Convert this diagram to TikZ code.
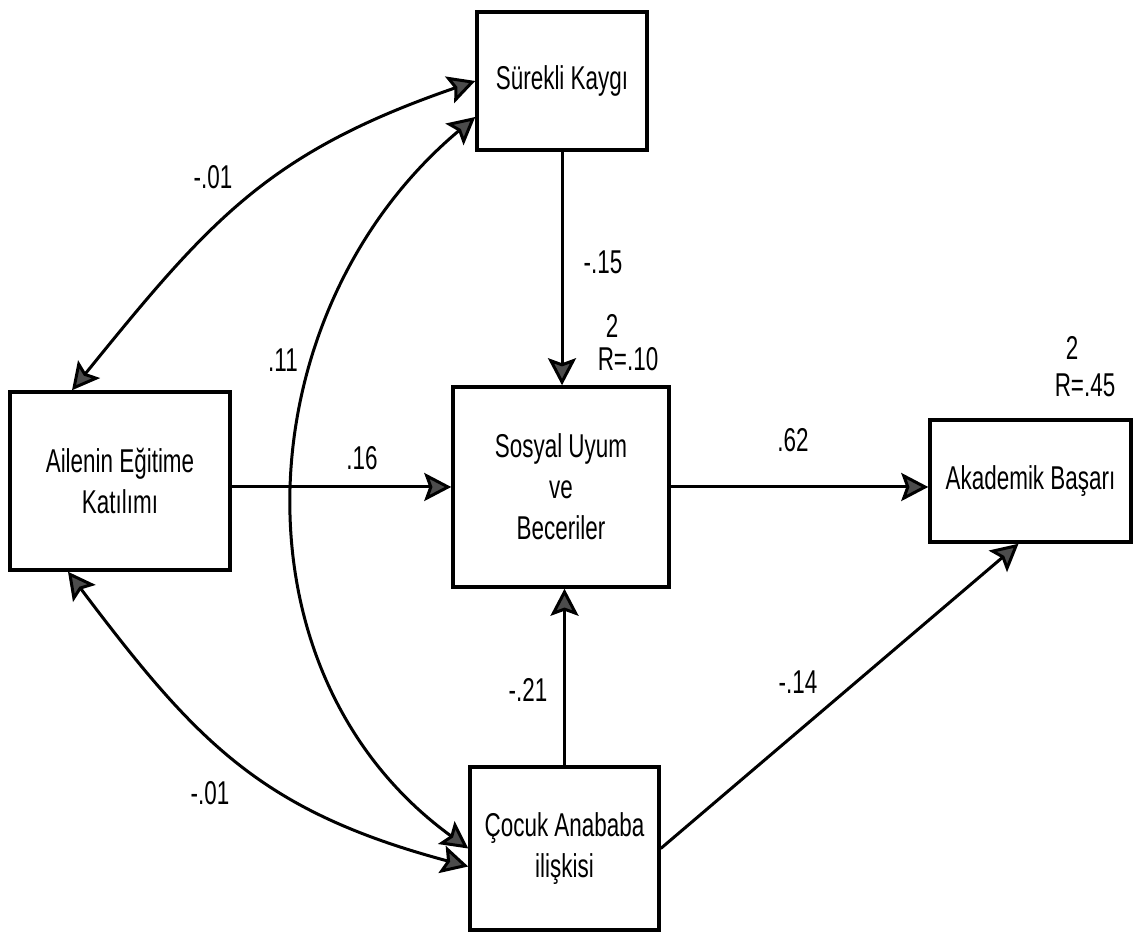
\documentclass[tikz,border=0pt]{standalone}
\usepackage{fontspec}
\setmainfont{Liberation Sans}[FakeStretch=0.68]
\usetikzlibrary{arrows.meta}
\begin{document}
\begin{tikzpicture}[x=1pt,y=1pt,
  font=\fontsize{33}{41}\selectfont,
  box/.style={draw, line width=3.5pt, align=center, inner sep=2pt},
  tip/.tip={Stealth[length=27pt,width=28pt,inset=5pt,fill=black!70]},
  arr/.style={line width=3pt, -tip},
  biarr/.style={line width=3pt, tip-tip},
  lbl/.style={inner sep=0pt}]
\useasboundingbox (0,0) rectangle (1134,933);
% nodes
\node[box, minimum width=170pt, minimum height=138pt] (sk) at (562,852) {Sürekli Kaygı};
\node[box, minimum width=220pt, minimum height=178pt] (ail) at (120,452) {Ailenin Eğitime\\Katılımı};
\node[box, minimum width=216pt, minimum height=200pt] (sos) at (561,446) {Sosyal Uyum\\ve\\Beceriler};
\node[box, minimum width=201pt, minimum height=122pt] (aka) at (1030.5,452) {Akademik Başarı};
\node[box, minimum width=189pt, minimum height=163pt] (coc) at (564.5,84.5) {Çocuk Anababa\\ilişkisi};
% straight paths
\draw[arr] (sk.south) -- (sk.south |- sos.north);
\draw[arr] (ail.east |- sos.west) -- (sos.west);
\draw[arr] (sos.east) -- (sos.east -| aka.west);
\draw[arr] (coc.north) -- (coc.north |- sos.south);
\draw[arr] (coc.east) -- ([xshift=-12pt]aka.south);
% covariances
\draw[biarr] ([xshift=-48pt]ail.north) to[out=51,in=199,looseness=1.1] (sk.west);
\draw[biarr] ([yshift=-36pt]sk.west) to[out=220,in=144,looseness=1.05] (coc.west);
\draw[biarr] ([xshift=-52pt]ail.south) to[out=307,in=165,looseness=1.1] ([yshift=-18pt]coc.west);
% labels
\node[lbl] (l15) at (603,671) {-.15};
\node[lbl] (r1a) at (612,607) {2};
\node[lbl] (r1b) at (628,574) {R=.10};
\node[lbl] (r2a) at (1072,585) {2};
\node[lbl] (r2b) at (1085,548) {R=.45};
\node[lbl] (l16) at (362,475) {.16};
\node[lbl] (l62) at (793,493) {.62};
\node[lbl] (l21) at (528,243) {-.21};
\node[lbl] (l14) at (798,251) {-.14};
\node[lbl] (l01a) at (213,756) {-.01};
\node[lbl] (l11) at (283,573) {.11};
\node[lbl] (l01b) at (210,140) {-.01};
\end{tikzpicture}
\end{document}
